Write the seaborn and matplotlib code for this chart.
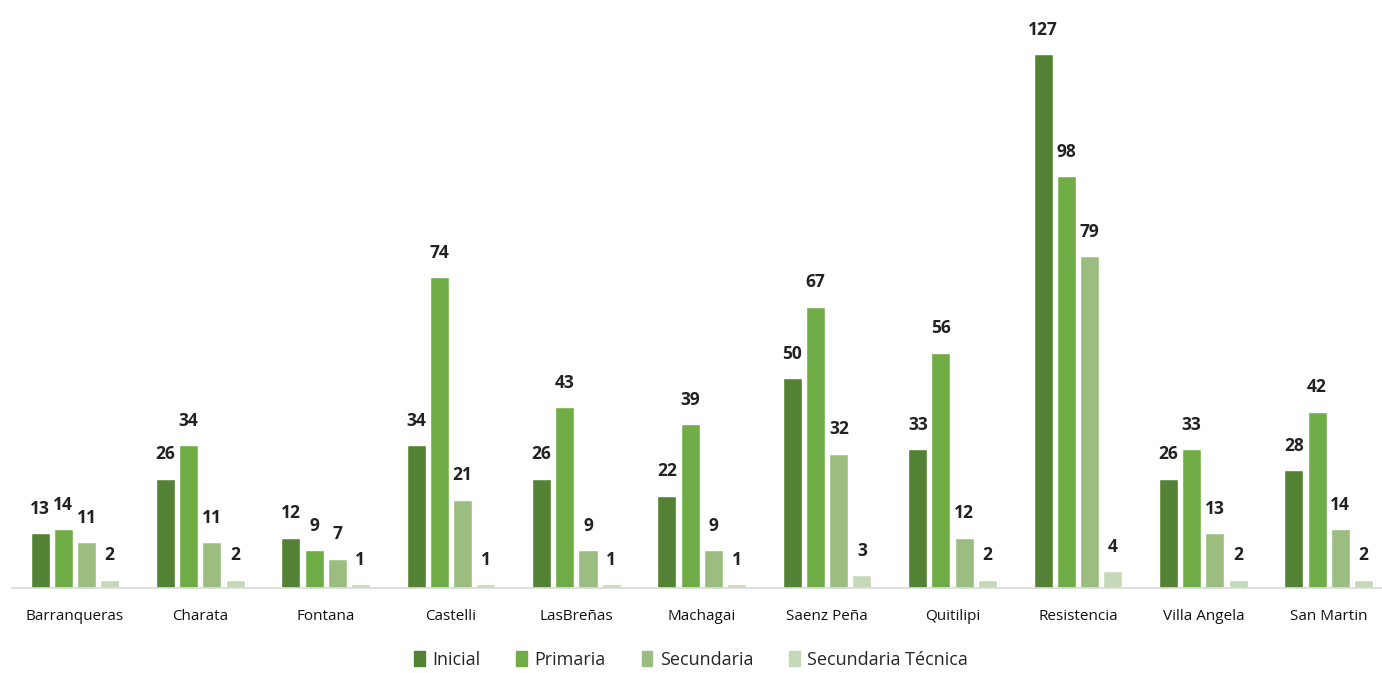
import matplotlib
matplotlib.use("Agg")
import matplotlib.pyplot as plt
import seaborn as sns
import pandas as pd

categories = ["Barranqueras", "Charata", "Fontana", "Castelli", "LasBreñas", "Machagai",
              "Saenz Peña", "Quitilipi", "Resistencia", "Villa Angela", "San Martin"]
series = ["Inicial", "Primaria", "Secundaria", "Secundaria Técnica"]
inicial = [13, 26, 12, 34, 26, 22, 50, 33, 127, 26, 28]
primaria = [14, 34, 9, 74, 43, 39, 67, 56, 98, 33, 42]
secundaria = [11, 11, 7, 21, 9, 9, 32, 12, 79, 13, 14]
tecnica = [2, 2, 1, 1, 1, 1, 3, 2, 4, 2, 2]
colors = ["#548235", "#70AD47", "#9BBE80", "#C5D9B8"]

rows = []
for s, vals in zip(series, [inicial, primaria, secundaria, tecnica]):
    for c, v in zip(categories, vals):
        rows.append({"cat": c, "serie": s, "val": v})
df = pd.DataFrame(rows)

sns.set_theme(style="white")
plt.rcParams['font.family'] = ['Open Sans', 'DejaVu Sans']

fig = plt.figure(figsize=(13.82, 6.73), dpi=100)
ax = fig.add_axes([0.0088, 0.1263, 0.998, 0.874])
sns.barplot(data=df, x="cat", y="val", hue="serie", order=categories, hue_order=series,
            palette=colors, width=0.74, gap=0.18, ax=ax, legend=False, saturation=1)

for cont in ax.containers:
    ax.bar_label(cont, fmt="%d", padding=11, fontsize=12.5, fontweight="bold", color="#222222")

ax.set_ylim(0, 140)
ax.set_xlim(-0.5, 10.5)
ax.set_xlabel("")
ax.set_ylabel("")
ax.set_yticks([])
for sp in ["top", "right", "left"]:
    ax.spines[sp].set_visible(False)
ax.spines["bottom"].set_color("#D9D9D9")
ax.spines["bottom"].set_linewidth(1.2)
ax.tick_params(axis="x", length=0, pad=15, labelsize=11, labelcolor="#111111")
for t in ax.get_xticklabels():
    t.set_fontweight("medium")

handles = [plt.Rectangle((0, 0), 1, 1, color=c) for c in colors]
fig.legend(handles, series, loc="lower center", bbox_to_anchor=(0.5, -0.018), ncol=4,
           frameon=False, fontsize=13, handlelength=0.6, handleheight=0.9,
           handletextpad=0.4, columnspacing=2.0, prop={"weight": "medium", "size": 13})

fig.savefig("out.png", dpi=100)
